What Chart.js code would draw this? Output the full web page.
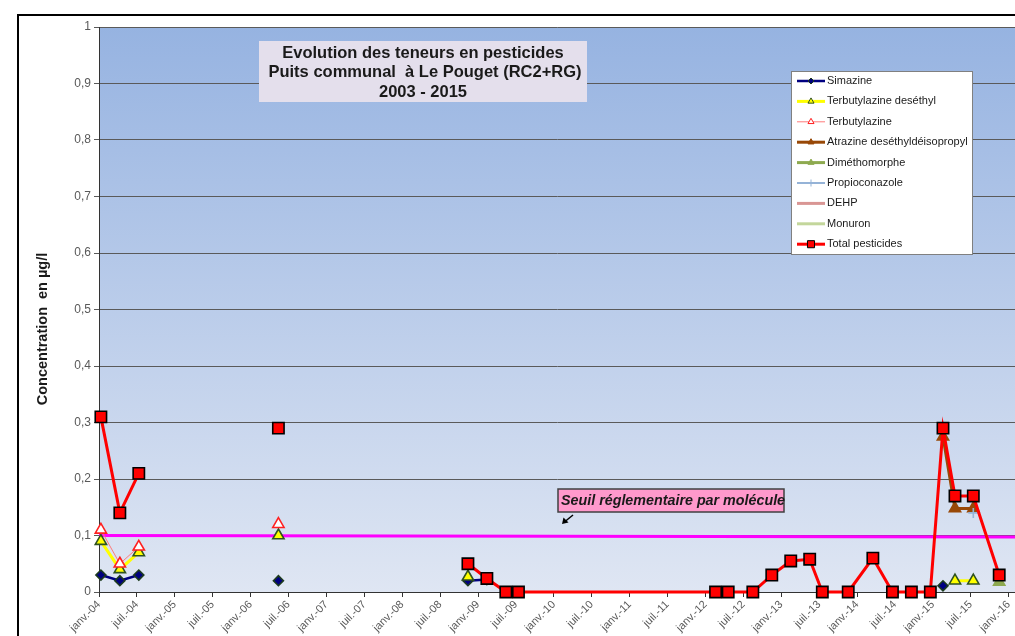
<!DOCTYPE html>
<html>
<head>
<meta charset="utf-8">
<script src="https://cdn.jsdelivr.net/npm/chart.js@4.4.1/dist/chart.umd.min.js"></script>
<style>
  html, body { margin: 0; padding: 0; background: #fff; overflow: hidden; }
  #wrap { position: relative; width: 1015px; height: 636px; }
</style>
</head>
<body>
<div id="wrap"><canvas id="pesticides"></canvas></div>
<script>
// sample dates (the two mid-year rows carry no value, they only break the lines like in the sheet)
const sampleDates = [
  '2004-01-10', '2004-04-10', '2004-07-10', '2005-06-15', '2006-05-13', '2007-08-15',
  '2008-11-13', '2009-02-13', '2009-05-13', '2009-07-13', '2012-02-19', '2012-04-19',
  '2012-08-16', '2012-11-16', '2013-02-16', '2013-05-16', '2013-07-16', '2013-11-19',
  '2014-03-16', '2014-06-19', '2014-09-19', '2014-12-19', '2015-02-19', '2015-04-16',
  '2015-07-13', '2015-11-16'
];

const simazine = [0.03, 0.02, 0.03, null, 0.02, null, 0.02, 0.022, null, null, null, null,
  null, null, null, null, null, null, null, null, null, null, 0.011, null, null, null];
const terbuDesethyl = [0.09, 0.04, 0.07, null, 0.10, null, 0.027, null, null, null, null, null,
  null, null, null, null, null, null, null, null, null, null, null, 0.02, 0.02, null];
const terbutylazine = [0.11, 0.05, 0.08, null, 0.12, null, null, null, null, null, null, null,
  null, null, null, null, null, null, null, null, null, null, null, null, null, null];
const atrazineDIA = [null, null, null, null, null, null, null, null, null, null, null, null,
  null, null, null, null, null, null, null, null, null, null, 0.275, 0.148, 0.148, null];
const dimethomorphe = [null, null, null, null, null, null, null, null, null, null, null, null,
  null, null, null, null, null, null, null, null, null, null, null, null, null, 0.018];
const propiconazole = [null, null, null, null, null, null, null, null, null, null, null, null,
  null, null, null, null, null, null, null, null, null, null, null, null, 0.14, null];
const dehp = sampleDates.map(() => null);
const monuron = sampleDates.map(() => null);
const totalPesticides = [0.31, 0.14, 0.21, null, 0.29, null, 0.05, 0.024, 0, 0, 0, 0,
  0, 0.03, 0.055, 0.058, 0, 0, 0.06, 0, 0, 0, 0.29, 0.17, 0.17, 0.03];

const seuil = 0.1;

const tickLabels = [
  'janv.-04', 'juil.-04', 'janv.-05', 'juil.-05', 'janv.-06', 'juil.-06', 'janv.-07',
  'juil.-07', 'janv.-08', 'juil.-08', 'janv.-09', 'juil.-09', 'janv.-10', 'juil.-10',
  'janv.-11', 'juil.-11', 'janv.-12', 'juil.-12', 'janv.-13', 'juil.-13', 'janv.-14',
  'juil.-14', 'janv.-15', 'juil.-15', 'janv.-16'
];

const FONT = "'Liberation Sans', Arial, sans-serif";
Chart.defaults.font.family = FONT;

// months since janv. 2004
function toMonths(d) {
  const [y, m, day] = d.split('-').map(Number);
  return (y - 2004) * 12 + (m - 1) + (day - 1) / 30;
}
const xs = sampleDates.map(toMonths);
const points = vals => vals.map((v, i) => ({ x: xs[i], y: v }));

const series = [
  { label: 'Simazine', data: simazine, color: '#000080', width: 2.5, style: 'rectRot', r: 5,
    fill: '#000080', edge: '#1d3b1d', legendR: 3 },
  { label: 'Terbutylazine deséthyl', data: terbuDesethyl, color: '#ffff00', width: 3, style: 'triangle', r: 6.5,
    fill: '#ffff00', edge: '#2f5220', legendR: 3.5 },
  { label: 'Terbutylazine', data: terbutylazine, color: '#ff7b7b', width: 1, style: 'triangle', r: 6.5,
    fill: '#ffffff', edge: '#ff2020', legendR: 3.5 },
  { label: 'Atrazine deséthyldéisopropyl', data: atrazineDIA, color: '#984807', width: 3, style: 'triangle', r: 6.5,
    fill: '#984807', edge: '#984807', legendR: 3.5 },
  { label: 'Diméthomorphe', data: dimethomorphe, color: '#8eaa50', width: 3, style: 'triangle', r: 6.5,
    fill: '#8eaa50', edge: '#8eaa50', legendR: 3.5 },
  { label: 'Propioconazole', data: propiconazole, color: '#95b3d7', width: 2, style: 'cross', r: 5,
    fill: '#95b3d7', edge: '#95b3d7', legendR: 3.5 },
  { label: 'DEHP', data: dehp, color: '#d99694', width: 3, style: false, r: 0,
    fill: '#d99694', edge: '#d99694', legendR: 0 },
  { label: 'Monuron', data: monuron, color: '#c3d69b', width: 3, style: false, r: 0,
    fill: '#c3d69b', edge: '#c3d69b', legendR: 0 },
  { label: 'Total pesticides', data: totalPesticides, color: '#ff0000', width: 3, style: 'rect', r: 8,
    fill: '#ff0000', edge: '#000000', legendR: 5 }
];

const datasets = series.map((s, i) => ({
  label: s.label,
  data: points(s.data),
  borderColor: s.color,
  borderWidth: s.width,
  pointStyle: s.style,
  pointRadius: s.r,
  pointBackgroundColor: s.fill,
  pointBorderColor: s.edge,
  pointBorderWidth: 1.6,
  tension: 0,
  spanGaps: false,
  clip: false,
  order: series.length - i
}));

const decor = {
  id: 'decor',
  beforeDraw(chart) {
    const { ctx, chartArea: a } = chart;
    ctx.save();
    const g = ctx.createLinearGradient(0, a.top, 0, a.bottom);
    g.addColorStop(0, '#96b3e1');
    g.addColorStop(1, '#dfe6f3');
    ctx.fillStyle = g;
    ctx.fillRect(a.left, a.top, a.right - a.left, a.bottom - a.top);
    ctx.restore();
  },
  beforeDatasetsDraw(chart) {
    const { ctx, chartArea: a, scales } = chart;
    const y = scales.y.getPixelForValue(seuil);
    ctx.save();
    ctx.strokeStyle = '#ff00ff';
    ctx.lineWidth = 3;
    ctx.beginPath();
    ctx.moveTo(a.left, y);
    ctx.lineTo(a.right, y + 1.5);
    ctx.stroke();
    ctx.restore();
  },
  afterDraw(chart) {
    const { ctx } = chart;
    ctx.save();

    // outer frame
    ctx.strokeStyle = '#000';
    ctx.lineWidth = 2;
    ctx.beginPath();
    ctx.moveTo(1015, 15);
    ctx.lineTo(18, 15);
    ctx.lineTo(18, 636);
    ctx.stroke();

    // title box
    ctx.fillStyle = '#e4dfec';
    ctx.fillRect(259, 41, 328, 61);
    ctx.fillStyle = '#1a1a1a';
    ctx.font = 'bold 16.5px ' + FONT;
    ctx.textAlign = 'center';
    ctx.textBaseline = 'middle';
    ctx.fillText('Evolution des teneurs en pesticides', 423, 53);
    ctx.fillText('Puits communal  à Le Pouget (RC2+RG)', 425, 72.5);
    ctx.fillText('2003 - 2015', 423, 92);

    // y axis title
    ctx.save();
    ctx.translate(43, 329);
    ctx.rotate(-Math.PI / 2);
    ctx.font = 'bold 14.5px ' + FONT;
    ctx.fillText('Concentration  en µg/l', 0, 0);
    ctx.restore();

    // threshold note
    ctx.fillStyle = '#ff99cc';
    ctx.fillRect(558, 489, 226, 23);
    ctx.strokeStyle = '#404040';
    ctx.lineWidth = 1.5;
    ctx.strokeRect(558, 489, 226, 23);
    ctx.fillStyle = '#1a1a1a';
    ctx.font = 'italic bold 14.3px ' + FONT;
    ctx.textAlign = 'left';
    ctx.fillText('Seuil réglementaire par molécule', 561, 501);

    // arrow
    ctx.strokeStyle = '#000';
    ctx.lineWidth = 1.5;
    ctx.beginPath();
    ctx.moveTo(573, 515);
    ctx.lineTo(565, 521.5);
    ctx.stroke();
    ctx.fillStyle = '#000';
    ctx.beginPath();
    ctx.moveTo(562, 524);
    ctx.lineTo(563.5, 517.5);
    ctx.lineTo(568.5, 522.5);
    ctx.closePath();
    ctx.fill();

    // legend
    ctx.fillStyle = '#ffffff';
    ctx.fillRect(791, 71, 181, 183);
    ctx.strokeStyle = '#808080';
    ctx.lineWidth = 1;
    ctx.strokeRect(791.5, 71.5, 181, 183);
    ctx.font = '11px ' + FONT;
    ctx.textAlign = 'left';
    ctx.textBaseline = 'middle';
    series.forEach((s, i) => {
      const yy = 81 + i * 20.4;
      ctx.strokeStyle = s.color;
      ctx.lineWidth = s.width;
      ctx.beginPath();
      ctx.moveTo(797, yy);
      ctx.lineTo(825, yy);
      ctx.stroke();
      if (s.style) {
        ctx.fillStyle = s.fill;
        ctx.strokeStyle = s.edge;
        ctx.lineWidth = 1;
        Chart.helpers.drawPoint(ctx, { pointStyle: s.style, radius: s.legendR, rotation: 0, borderWidth: 1 }, 811, yy);
      }
      ctx.fillStyle = '#1a1a1a';
      ctx.fillText(s.label, 827, yy);
    });

    ctx.restore();
  }
};

new Chart(document.getElementById('pesticides'), {
  type: 'line',
  data: { datasets },
  plugins: [decor],
  options: {
    responsive: true,
    maintainAspectRatio: false,
    animation: false,
    layout: { autoPadding: false, padding: { top: 27, left: 0, right: 0, bottom: 0 } },
    plugins: { legend: { display: false }, tooltip: { enabled: false } },
    scales: {
      x: {
        type: 'linear',
        min: 0,
        max: 145,
        afterBuildTicks: axis => { axis.ticks = tickLabels.map((_, i) => ({ value: i * 6 })); },
        afterFit: scale => { scale.height = 44; scale.paddingRight = 0; },
        grid: { drawOnChartArea: false, drawTicks: true, tickLength: 5, color: '#333' },
        border: { color: '#333', width: 1 },
        ticks: {
          autoSkip: false,
          minRotation: 45,
          maxRotation: 45,
          padding: 1,
          color: '#595959',
          font: { size: 11 },
          callback: v => tickLabels[Math.round(v / 6)]
        }
      },
      y: {
        min: 0,
        max: 1,
        afterFit: scale => { scale.width = 99; },
        grid: { color: '#5a5a5a', lineWidth: 1, tickLength: 5 },
        border: { color: '#333', width: 1 },
        ticks: {
          stepSize: 0.1,
          padding: 3,
          color: '#595959',
          font: { size: 12 },
          callback: v => String(Math.round(v * 10) / 10).replace('.', ',')
        }
      }
    }
  }
});
</script>
</body>
</html>
